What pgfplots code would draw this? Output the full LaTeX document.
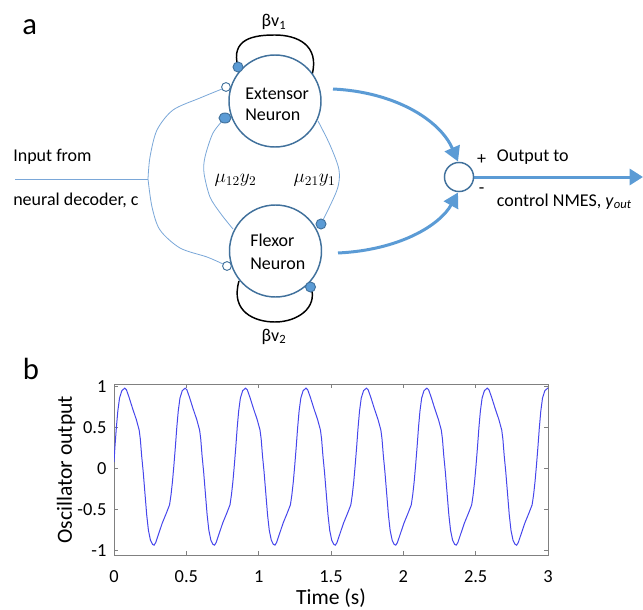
\documentclass[border=0pt]{standalone}
\usepackage{pgfplots}
\pgfplotsset{compat=1.18}
\usepackage{fontspec}
\setmainfont{Carlito}
\usetikzlibrary{arrows.meta}
\definecolor{cdark}{HTML}{41719C}
\definecolor{cmid}{HTML}{5B9BD5}
\definecolor{clight}{HTML}{7AA7D8}
\definecolor{mblue}{RGB}{70,70,235}
\definecolor{axgray}{RGB}{128,128,128}
\begin{document}
\begin{tikzpicture}
\useasboundingbox (0pt,0pt) rectangle (482.25pt,-457.5pt);
\begin{scope}[x=0.75pt,y=-0.75pt]
\tikzset{dtext/.style={font=\fontsize{13.5}{16}\selectfont}}
% panel letters
\node[anchor=base west,inner sep=0pt,font=\fontsize{23}{26}\selectfont] at (22,35) {a};
\node[anchor=base west,inner sep=0pt,font=\fontsize{23}{26}\selectfont] at (22.5,379) {b};
% input lines
\draw[clight,line width=0.6pt] (15,179) -- (148,179);
\draw[clight,line width=0.6pt] plot[smooth] coordinates {(148,179) (150,157) (157,130) (173,110) (200,98) (222,89)};
\draw[clight,line width=0.6pt] plot[smooth] coordinates {(148,179) (152,207) (160,230) (180,248) (207,257) (223,264)};
% coupling lines
\draw[clight,line width=0.6pt] plot[smooth] coordinates {(225,118) (213,133) (205,157) (204,173) (210,197) (221,214) (233,229)};
\draw[clight,line width=0.6pt] plot[smooth] coordinates {(318,121) (330,145) (339,170) (337,190) (321,224)};
% self loops
\draw[black,line width=1.1pt] (238,67) .. controls (230,38) and (255,35) .. (275,35) .. controls (297,35) and (320,45) .. (312,75);
\draw[black,line width=1.1pt] (239,281) .. controls (230,312) and (255,322) .. (275,322) .. controls (297,322) and (318,308) .. (311,287);
% neurons
\draw[cdark,line width=1.1pt,fill=white] (275,101) circle[radius=34.5pt];
\draw[cdark,line width=1.1pt,fill=white] (275.5,251) circle[radius=34.5pt];
\node[dtext,anchor=base west,inner sep=0pt] at (245,99.3) {Extensor};
\node[dtext,anchor=base west,inner sep=0pt] at (245,120.7) {Neuron};
\node[dtext,anchor=base west,inner sep=0pt] at (250,246.7) {Flexor};
\node[dtext,anchor=base west,inner sep=0pt] at (250,269.3) {Neuron};
% synapse dots
\draw[cdark,line width=0.7pt,fill=cmid] (238,67) circle[radius=3.75pt];
\draw[cdark,line width=0.7pt,fill=white] (226,87) circle[radius=3.3pt];
\draw[cdark,line width=0.7pt,fill=cmid] (225,118) ellipse[x radius=4.5pt,y radius=3.75pt];
\draw[cdark,line width=0.7pt,fill=white] (227,266) circle[radius=3.3pt];
\draw[cdark,line width=0.7pt,fill=cmid] (321,224) circle[radius=3.75pt];
\draw[cdark,line width=0.7pt,fill=cmid] (310.5,287) circle[radius=3.75pt];
% labels
\node[dtext,anchor=base,inner sep=0pt] at (274,27) {βv\textsubscript{1}};
\node[dtext,anchor=base,inner sep=0pt] at (274,341) {βv\textsubscript{2}};
\node[font=\fontsize{14}{16}\selectfont,inner sep=0pt] at (235.5,180) {$\mu_{12}y_2$};
\node[font=\fontsize{14}{16}\selectfont,inner sep=0pt] at (314.5,180) {$\mu_{21}y_1$};
\node[dtext,anchor=base west,inner sep=0pt] at (13,161.7) {Input from};
\node[dtext,anchor=base west,inner sep=0pt] at (13,205) {neural decoder, c};
% output part
\draw[cmid,line width=2.25pt,-{Triangle[length=11pt,width=12pt]}] (333,89) .. controls (395,92) and (440,120) .. (458,161.5);
\draw[cmid,line width=2.25pt,-{Triangle[length=11pt,width=12pt]}] (338,253) .. controls (400,250) and (440,225) .. (458,192.5);
\draw[cmid,line width=2.25pt,-{Triangle[length=10pt,width=12pt]}] (473.5,177) -- (643,177);
\draw[cdark,line width=1.1pt,fill=white] (459,177) circle[radius=10.9pt];
\node[dtext,inner sep=0pt] at (481.7,160) {+};
\node[dtext,inner sep=0pt] at (481.7,191) {-};
\node[dtext,anchor=base west,inner sep=0pt] at (496.7,161.7) {Output to};
\node[dtext,anchor=base west,inner sep=0pt] at (496.7,206) {control NMES, \textit{y}\textsubscript{\textit{out}}};
\end{scope}
\begin{axis}[
  scale only axis,
  width=325.5pt, height=127.9pt,
  at={(85.5pt,-416.25pt)}, anchor=south west,
  xmin=0, xmax=3, ymin=-1.05, ymax=1.025,
  xtick={0,0.5,1,1.5,2,2.5,3},
  ytick={-1,-0.5,0,0.5,1},
  xticklabels={0,0.5,1,1.5,2,2.5,3},
  yticklabels={-1,-0.5,0,0.5,1},
  tick align=inside,
  major tick length=3pt,
  axis line style={axgray,line width=0.7pt},
  tick style={axgray,line width=0.6pt},
  tick label style={font=\fontsize{13.8}{16}\selectfont, inner sep=0pt},
  xticklabel style={anchor=base, yshift=-20.8pt},
  yticklabel style={anchor=east, xshift=-5.5pt},
  xlabel={Time (s)},
  ylabel={Oscillator output},
  label style={font=\fontsize{16.2}{19}\selectfont},
  xlabel style={at={(axis description cs:0.5,-0.252)}, anchor=center},
  ylabel style={at={(axis description cs:-0.1106,0.5)}, anchor=center},
]
\addplot[mblue, line width=0.75pt] coordinates {
(0,0.08) (0.0063,0.26) (0.0163,0.50) (0.0263,0.70) (0.0383,0.86) (0.0543,0.95)
(0.0740,0.98) (0.0860,0.96) (0.1040,0.87) (0.1290,0.73) (0.1540,0.60) (0.1740,0.47) (0.1820,0.36) (0.1910,0.16) (0.2020,-0.04) (0.2140,-0.30) (0.2260,-0.56) (0.2380,-0.75) (0.2520,-0.87) (0.2660,-0.92) (0.2770,-0.93) (0.2880,-0.90) (0.3090,-0.79) (0.3340,-0.66) (0.3620,-0.54) (0.3840,-0.44) (0.3940,-0.32) (0.4040,-0.16) (0.4140,0.04) (0.4240,0.26) (0.4340,0.50) (0.4440,0.70) (0.4560,0.86) (0.4720,0.95)
(0.4917,0.98) (0.5037,0.96) (0.5217,0.87) (0.5467,0.73) (0.5717,0.60) (0.5917,0.47) (0.5997,0.36) (0.6087,0.16) (0.6197,-0.04) (0.6317,-0.30) (0.6437,-0.56) (0.6557,-0.75) (0.6697,-0.87) (0.6837,-0.92) (0.6947,-0.93) (0.7057,-0.90) (0.7267,-0.79) (0.7517,-0.66) (0.7797,-0.54) (0.8017,-0.44) (0.8117,-0.32) (0.8217,-0.16) (0.8317,0.04) (0.8417,0.26) (0.8517,0.50) (0.8617,0.70) (0.8737,0.86) (0.8897,0.95)
(0.9094,0.98) (0.9214,0.96) (0.9394,0.87) (0.9644,0.73) (0.9894,0.60) (1.0094,0.47) (1.0174,0.36) (1.0264,0.16) (1.0374,-0.04) (1.0494,-0.30) (1.0614,-0.56) (1.0734,-0.75) (1.0874,-0.87) (1.1014,-0.92) (1.1124,-0.93) (1.1234,-0.90) (1.1444,-0.79) (1.1694,-0.66) (1.1974,-0.54) (1.2194,-0.44) (1.2294,-0.32) (1.2394,-0.16) (1.2494,0.04) (1.2594,0.26) (1.2694,0.50) (1.2794,0.70) (1.2914,0.86) (1.3074,0.95)
(1.3271,0.98) (1.3391,0.96) (1.3571,0.87) (1.3821,0.73) (1.4071,0.60) (1.4271,0.47) (1.4351,0.36) (1.4441,0.16) (1.4551,-0.04) (1.4671,-0.30) (1.4791,-0.56) (1.4911,-0.75) (1.5051,-0.87) (1.5191,-0.92) (1.5301,-0.93) (1.5411,-0.90) (1.5621,-0.79) (1.5871,-0.66) (1.6151,-0.54) (1.6371,-0.44) (1.6471,-0.32) (1.6571,-0.16) (1.6671,0.04) (1.6771,0.26) (1.6871,0.50) (1.6971,0.70) (1.7091,0.86) (1.7251,0.95)
(1.7448,0.98) (1.7568,0.96) (1.7748,0.87) (1.7998,0.73) (1.8248,0.60) (1.8448,0.47) (1.8528,0.36) (1.8618,0.16) (1.8728,-0.04) (1.8848,-0.30) (1.8968,-0.56) (1.9088,-0.75) (1.9228,-0.87) (1.9368,-0.92) (1.9478,-0.93) (1.9588,-0.90) (1.9798,-0.79) (2.0048,-0.66) (2.0328,-0.54) (2.0548,-0.44) (2.0648,-0.32) (2.0748,-0.16) (2.0848,0.04) (2.0948,0.26) (2.1048,0.50) (2.1148,0.70) (2.1268,0.86) (2.1428,0.95)
(2.1625,0.98) (2.1745,0.96) (2.1925,0.87) (2.2175,0.73) (2.2425,0.60) (2.2625,0.47) (2.2705,0.36) (2.2795,0.16) (2.2905,-0.04) (2.3025,-0.30) (2.3145,-0.56) (2.3265,-0.75) (2.3405,-0.87) (2.3545,-0.92) (2.3655,-0.93) (2.3765,-0.90) (2.3975,-0.79) (2.4225,-0.66) (2.4505,-0.54) (2.4725,-0.44) (2.4825,-0.32) (2.4925,-0.16) (2.5025,0.04) (2.5125,0.26) (2.5225,0.50) (2.5325,0.70) (2.5445,0.86) (2.5605,0.95)
(2.5802,0.98) (2.5922,0.96) (2.6102,0.87) (2.6352,0.73) (2.6602,0.60) (2.6802,0.47) (2.6882,0.36) (2.6972,0.16) (2.7082,-0.04) (2.7202,-0.30) (2.7322,-0.56) (2.7442,-0.75) (2.7582,-0.87) (2.7722,-0.92) (2.7832,-0.93) (2.7942,-0.90) (2.8152,-0.79) (2.8402,-0.66) (2.8682,-0.54) (2.8902,-0.44) (2.9002,-0.32) (2.9102,-0.16) (2.9202,0.04) (2.9302,0.26) (2.9402,0.50) (2.9502,0.70) (2.9622,0.86) (2.9782,0.95)
(2.9979,0.98) (3.0,0.98)
};
\end{axis}
\end{tikzpicture}
\end{document}
